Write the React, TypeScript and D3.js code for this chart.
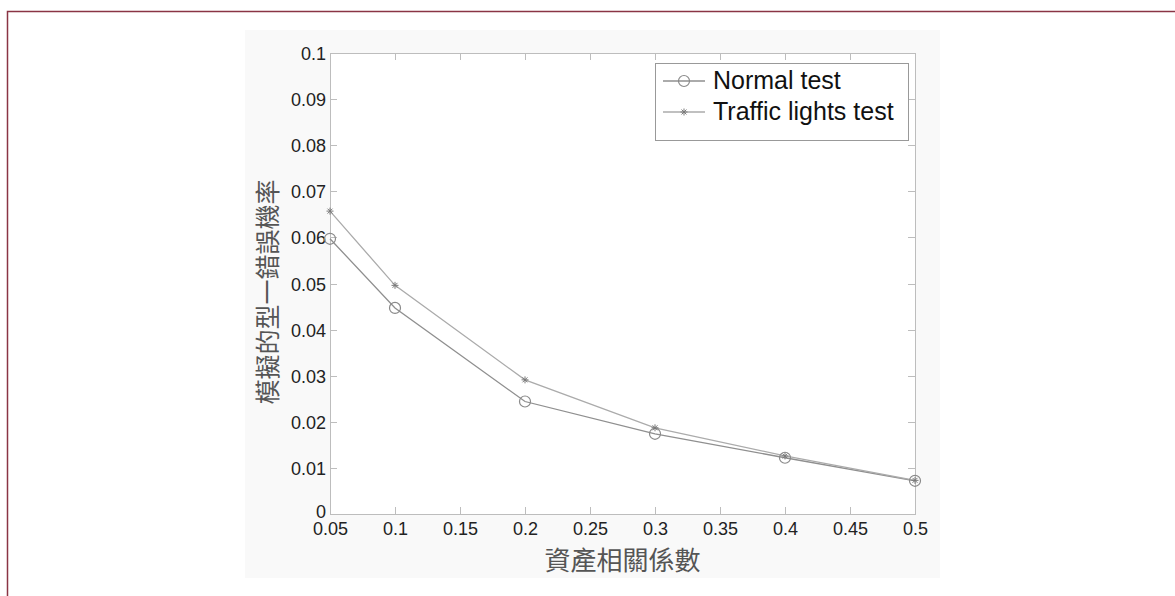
import React, { useRef, useEffect } from 'react';
import { select, scaleLinear, line, range } from 'd3';

const correlations = [0.05, 0.1, 0.2, 0.3, 0.4, 0.5];
const normalTest = [0.0597, 0.0447, 0.0244, 0.0174, 0.0122, 0.0072];
const trafficLightsTest = [0.0657, 0.0496, 0.0291, 0.0187, 0.0126, 0.0073];
const xTicks = [0.05, 0.1, 0.15, 0.2, 0.25, 0.3, 0.35, 0.4, 0.45, 0.5];
const yTicks = [0, 0.01, 0.02, 0.03, 0.04, 0.05, 0.06, 0.07, 0.08, 0.09, 0.1];
const seriesNames = ['Normal test', 'Traffic lights test'];
const xTitle = '資產相關係數';
const yTitle = '模擬的型一錯誤機率';

const W = 1175;
const H = 596;
const plot = { left: 330, right: 915, top: 53, bottom: 514 };
const numFont = '"Liberation Sans", Arial, sans-serif';
const cjkFont = '"Noto Sans CJK TC", sans-serif';

function App() {
  const svgRef = useRef<SVGSVGElement>(null);

  useEffect(() => {
    const svg = select(svgRef.current);
    svg.selectAll('*').remove();

    const x = scaleLinear().domain([0.05, 0.5]).range([plot.left, plot.right]);
    const y = scaleLinear().domain([0, 0.1]).range([plot.bottom, plot.top]);

    // page frame, only top and left edges are in view
    svg.append('rect')
      .attr('x', 7.5).attr('y', 11.5)
      .attr('width', W + 20).attr('height', H + 20)
      .attr('fill', '#fff')
      .attr('stroke', '#8a3444')
      .attr('stroke-width', 1.5);

    // figure background
    svg.append('rect')
      .attr('x', 245).attr('y', 30)
      .attr('width', 695).attr('height', 548)
      .attr('fill', '#f9f9f9');

    svg.append('rect')
      .attr('x', plot.left + 0.5).attr('y', plot.top + 0.5)
      .attr('width', plot.right - plot.left).attr('height', plot.bottom - plot.top)
      .attr('fill', '#fff')
      .attr('stroke', '#bdbdbd')
      .attr('stroke-width', 1);

    const tickLen = 7;
    const axisColor = '#bdbdbd';
    const g = svg.append('g');

    // x ticks point inward, bottom and top
    xTicks.forEach((t) => {
      const px = Math.round(x(t)) + 0.5;
      g.append('line').attr('x1', px).attr('x2', px)
        .attr('y1', plot.bottom).attr('y2', plot.bottom - tickLen).attr('stroke', axisColor);
      g.append('line').attr('x1', px).attr('x2', px)
        .attr('y1', plot.top).attr('y2', plot.top + tickLen).attr('stroke', axisColor);
      g.append('text')
        .attr('x', px).attr('y', plot.bottom + 21)
        .attr('text-anchor', 'middle')
        .attr('font-family', numFont)
        .attr('font-size', 18)
        .attr('fill', '#222')
        .text(String(t));
    });

    // y ticks point inward, left and right
    yTicks.forEach((t) => {
      const py = Math.round(y(t)) + 0.5;
      g.append('line').attr('x1', plot.left).attr('x2', plot.left + tickLen)
        .attr('y1', py).attr('y2', py).attr('stroke', axisColor);
      g.append('line').attr('x1', plot.right).attr('x2', plot.right - tickLen)
        .attr('y1', py).attr('y2', py).attr('stroke', axisColor);
      g.append('text')
        .attr('x', plot.left - 4).attr('y', t === 0 ? py + 3 : py + 6)
        .attr('text-anchor', 'end')
        .attr('font-family', numFont)
        .attr('font-size', 18)
        .attr('fill', '#222')
        .text(String(t));
    });

    // axis titles
    svg.append('text')
      .attr('x', (plot.left + plot.right) / 2).attr('y', 570)
      .attr('text-anchor', 'middle')
      .attr('font-family', cjkFont)
      .attr('font-size', 26)
      .attr('fill', '#555')
      .text(xTitle);

    svg.append('text')
      .attr('transform', `translate(277,292) rotate(-90)`)
      .attr('text-anchor', 'middle')
      .attr('font-family', cjkFont)
      .attr('font-size', 25)
      .attr('fill', '#555')
      .text(yTitle);

    const lineGen = line<number>()
      .x((d, i) => x(correlations[i]))
      .y((d) => y(d));

    const lineColors = ['#8f8f8f', '#ababab'];
    [normalTest, trafficLightsTest].forEach((vals, si) => {
      svg.append('path')
        .datum(vals)
        .attr('d', lineGen)
        .attr('fill', 'none')
        .attr('stroke', lineColors[si])
        .attr('stroke-width', 1.3);
    });

    const drawCircle = (sel, cx, cy) => {
      sel.append('circle')
        .attr('cx', cx).attr('cy', cy).attr('r', 5.5)
        .attr('fill', 'none')
        .attr('stroke', '#8a8a8a')
        .attr('stroke-width', 1.2);
    };
    const drawStar = (sel, cx, cy) => {
      const r = 3.5;
      range(4).forEach((k) => {
        const a = (k * Math.PI) / 4;
        sel.append('line')
          .attr('x1', cx - r * Math.cos(a)).attr('y1', cy - r * Math.sin(a))
          .attr('x2', cx + r * Math.cos(a)).attr('y2', cy + r * Math.sin(a))
          .attr('stroke', '#7a7a7a')
          .attr('stroke-width', 1);
      });
    };

    normalTest.forEach((v, i) => drawCircle(svg, x(correlations[i]), y(v)));
    trafficLightsTest.forEach((v, i) => drawStar(svg, x(correlations[i]), y(v)));

    // legend
    const lg = svg.append('g');
    const lx = 655;
    const ly = 63;
    lg.append('rect')
      .attr('x', lx + 0.5).attr('y', ly + 0.5)
      .attr('width', 253).attr('height', 77)
      .attr('fill', '#fff')
      .attr('stroke', '#999');
    seriesNames.forEach((name, i) => {
      const yy = ly + 18 + i * 31;
      lg.append('line')
        .attr('x1', lx + 8).attr('x2', lx + 50)
        .attr('y1', yy).attr('y2', yy)
        .attr('stroke', lineColors[i])
        .attr('stroke-width', 1.3);
      if (i === 0) drawCircle(lg, lx + 29, yy);
      else drawStar(lg, lx + 29, yy);
      lg.append('text')
        .attr('x', lx + 58).attr('y', yy + 8)
        .attr('font-family', numFont)
        .attr('font-size', 25)
        .attr('fill', '#111')
        .text(name);
    });
  }, []);

  return (
    <svg
      ref={svgRef}
      width={W}
      height={H}
      style={{ position: 'absolute', left: 0, top: 0, background: '#fff' }}
    />
  );
}

export default App;
